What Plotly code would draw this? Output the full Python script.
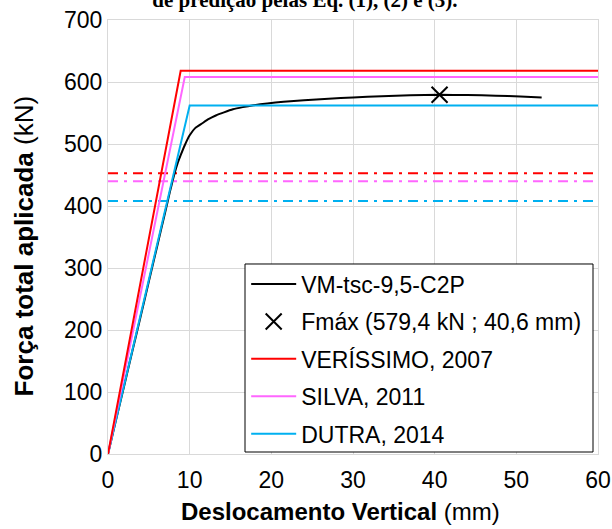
import plotly.graph_objects as go

# ---- data ----
vm_x = [0, 1, 2, 3, 4, 5, 6, 6.5, 7, 7.3, 7.6, 7.9, 8.2, 8.5, 8.9, 9.4, 10, 10.7, 11.5, 12.3,
        13.2, 14.2, 15.3, 16.5, 17.8, 19.5, 21.5, 24, 27, 30, 33.5, 37, 40.6, 44, 47.5, 50.5, 53.1]
vm_y = [0, 56, 111, 167, 222, 278, 334, 362, 390, 407, 424, 440, 455, 468, 482, 498, 514, 526,
        533, 540, 546, 551, 556, 559.5, 562.5, 565.5, 568, 570.5, 573, 575, 577, 578.5, 579.4,
        579, 578, 576.5, 575]

fmax_x = [40.6]
fmax_y = [579.4]

ver_x = [0, 8.9, 60]
ver_y = [0, 618, 618]
silva_x = [0, 9.4, 60]
silva_y = [0, 608, 608]
dutra_x = [0, 10.0, 60]
dutra_y = [0, 562, 562]

lim_x = [0, 60]
ver_lim = [453, 453]
silva_lim = [440, 440]
dutra_lim = [408, 408]

RED = "#FF0000"
MAG = "#FF66FF"
CYA = "#00B0F0"
FONT = "Liberation Sans, Arial, sans-serif"

fig = go.Figure()

# dash-dot limit lines (no legend)
for ys, c in [(ver_lim, RED), (silva_lim, MAG), (dutra_lim, CYA)]:
    fig.add_trace(go.Scatter(x=lim_x, y=ys, mode="lines", showlegend=False,
                             line=dict(color=c, width=2, dash="10px,6px,3px,6px"), hoverinfo="skip"))

fig.add_trace(go.Scatter(x=vm_x, y=vm_y, mode="lines", name="VM-tsc-9,5-C2P", legendgroup="a",
                         legendrank=1, line=dict(color="black", width=2, shape="spline", smoothing=0.3)))
fig.add_trace(go.Scatter(x=dutra_x, y=dutra_y, mode="lines", name="DUTRA, 2014", legendgroup="e",
                         legendrank=5, line=dict(color=CYA, width=2)))
fig.add_trace(go.Scatter(x=silva_x, y=silva_y, mode="lines", name="SILVA, 2011", legendgroup="d",
                         legendrank=4, line=dict(color=MAG, width=2)))
fig.add_trace(go.Scatter(x=ver_x, y=ver_y, mode="lines", name="VERÍSSIMO, 2007", legendgroup="c",
                         legendrank=3, line=dict(color=RED, width=2)))
fig.add_trace(go.Scatter(x=fmax_x, y=fmax_y, mode="markers", name="Fmáx (579,4 kN ; 40,6 mm)",
                         legendgroup="b", legendrank=2,
                         marker=dict(symbol="x-thin", size=16, color="black",
                                     line=dict(color="black", width=2))))

axis_common = dict(showgrid=True, gridcolor="#D9D9D9", gridwidth=1, showline=True,
                   linecolor="#D9D9D9", linewidth=1, mirror=True, zeroline=False, ticks="",
                   automargin=False, tickfont=dict(family=FONT, size=23, color="black"))

fig.update_xaxes(range=[0, 60], dtick=10, tick0=0, ticklabelstandoff=5, **axis_common)
fig.update_yaxes(range=[0, 700], dtick=100, tick0=0, ticklabelstandoff=0, **axis_common)

fig.update_layout(
    width=612, height=529, autosize=False,
    margin=dict(l=108, r=14, t=20, b=75, autoexpand=False),
    paper_bgcolor="white", plot_bgcolor="white",
    font=dict(family=FONT, color="black"),
    title=dict(text="<b>de predição pelas Eq. (1), (2) e (3).</b>", x=0.402, xref="paper",
               xanchor="center", y=1.0, yref="container", yanchor="middle", automargin=False,
               font=dict(family="Liberation Serif, Times New Roman, serif", size=21, color="black")),
    legend=dict(x=0.282, y=0.441, xanchor="left", yanchor="top",
                bgcolor="rgba(0,0,0,0)", borderwidth=0,
                font=dict(family=FONT, size=23, color="black"),
                itemwidth=45, tracegroupgap=4.5, traceorder="grouped"),
    shapes=[
        dict(type="rect", xref="paper", yref="paper", x0=0.2796, x1=0.9898, y0=0.0046, y1=0.4378,
             fillcolor="white", line=dict(color="black", width=1), layer="above"),
    ],
    annotations=[
        dict(text="<b>Deslocamento Vertical</b> (mm)", xref="paper", yref="paper",
             x=0.4735, y=-0.133, xanchor="center", yanchor="middle", showarrow=False,
             font=dict(family=FONT, size=24, color="black")),
        dict(text="<b>Força total aplicada</b> (kN)", xref="paper", yref="paper",
             x=-0.172, y=0.48, xanchor="center", yanchor="middle", showarrow=False, textangle=-90,
             font=dict(family=FONT, size=26, color="black")),
    ],
)

post = ("document.documentElement.style.overflow='hidden';"
        "document.body.style.margin='0px';document.body.style.overflow='hidden';")

fig.write_html("out.html", config={"displayModeBar": False, "responsive": False},
               post_script=post)
